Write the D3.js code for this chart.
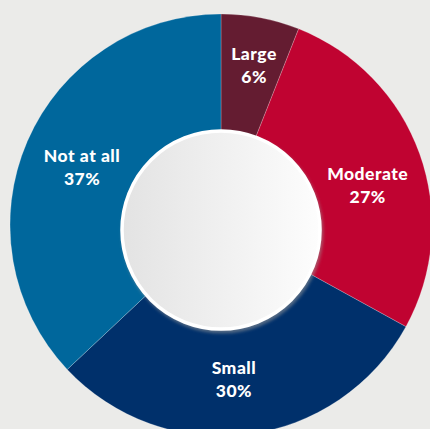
<!DOCTYPE html>
<html>
<head>
<meta charset="utf-8">
<script src="https://cdn.jsdelivr.net/npm/d3@7"></script>
<style>
  html, body { margin: 0; padding: 0; background: #ebebe9; }
  svg { display: block; }
</style>
</head>
<body>
<svg id="chart" width="430" height="429"></svg>
<script>
// Share of respondents by degree of impact
const categories = ["Large", "Moderate", "Small", "Not at all"];
const values = [6, 27, 30, 37];
const colors = ["#641c31", "#c00331", "#00306b", "#00679c"];

const width = 430, height = 429;
const cx = 221, cy = 225;
const outerR = 211;
const holeR = 99;

// label placement: small angular (deg) and radial tweaks around each slice's mid-angle
const labelAngleNudge = [0.9, 4.6, 2.4, -0.8];
const labelRadius = [163, 152, 154.5, 150.5];

const svg = d3.select("#chart");

const defs = svg.append("defs");
const grad = defs.append("linearGradient")
  .attr("id", "holeFill")
  .attr("x1", "0%").attr("y1", "0%")
  .attr("x2", "100%").attr("y2", "0%");
grad.append("stop").attr("offset", "0%").attr("stop-color", "#e3e3e3");
grad.append("stop").attr("offset", "100%").attr("stop-color", "#fdfdfd");

const shadow = defs.append("filter")
  .attr("id", "holeShadow")
  .attr("x", "-20%").attr("y", "-20%")
  .attr("width", "140%").attr("height", "140%");
shadow.append("feDropShadow")
  .attr("dx", 1.5).attr("dy", 2.5)
  .attr("stdDeviation", 1.5)
  .attr("flood-color", "#9a9a9a")
  .attr("flood-opacity", 0.55);

const pie = d3.pie().sort(null).value(d => d)(values);
const arc = d3.arc().innerRadius(0).outerRadius(outerR);

const g = svg.append("g").attr("transform", `translate(${cx},${cy})`);

g.selectAll("path.slice")
  .data(pie)
  .join("path")
  .attr("class", "slice")
  .attr("d", arc)
  .attr("fill", (d, i) => colors[i])
  .attr("stroke", "rgba(255,255,255,0.35)")
  .attr("stroke-width", 0.6);

// centre disc with white rim
g.append("circle")
  .attr("cx", 0).attr("cy", 5)
  .attr("r", holeR)
  .attr("fill", "url(#holeFill)")
  .attr("stroke", "#ffffff")
  .attr("stroke-width", 3.5)
  .attr("filter", "url(#holeShadow)");

function labelPos(d, i) {
  const a = (d.startAngle + d.endAngle) / 2 + labelAngleNudge[i] * Math.PI / 180;
  const r = labelRadius[i];
  return [r * Math.sin(a), -r * Math.cos(a)];
}

const labels = g.selectAll("text.lbl")
  .data(pie)
  .join("text")
  .attr("class", "lbl")
  .attr("transform", (d, i) => `translate(${labelPos(d, i)})`)
  .attr("text-anchor", "middle")
  .attr("fill", "#ffffff")
  .style("font-family", "Lato, 'Open Sans', sans-serif")
  .style("font-weight", "900")
  .style("font-size", "17.5px")
  .style("letter-spacing", "0.5px");

labels.append("tspan")
  .attr("x", 0).attr("y", -5)
  .text((d, i) => categories[i]);
labels.append("tspan")
  .attr("x", 0).attr("y", 18)
  .text(d => d.data + "%");
</script>
</body>
</html>
